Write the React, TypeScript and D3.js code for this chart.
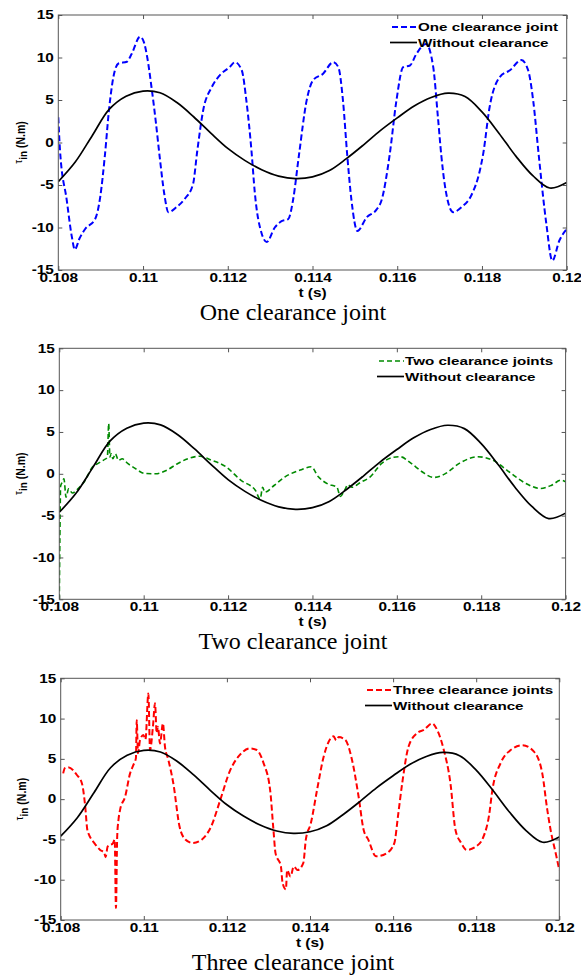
import React, { useEffect, useRef } from "react";
import * as d3 from "d3";

// axis ticks
const tickT = [0.108, 0.11, 0.112, 0.114, 0.116, 0.118, 0.12];
const tickTLabels = ["0.108", "0.11", "0.112", "0.114", "0.116", "0.118", "0.12"];
const tickTau = [-15, -10, -5, 0, 5, 10, 15];

// without clearance (same reference curve in every panel)
const tBase = [0.108, 0.1084, 0.1088, 0.1092, 0.1096, 0.11, 0.1104, 0.1108, 0.1112, 0.1116, 0.112, 0.1124, 0.1128, 0.1132, 0.1136, 0.114, 0.1144, 0.1148, 0.1152, 0.1156, 0.116, 0.1164, 0.1168, 0.1172, 0.1176, 0.118, 0.1184, 0.1188, 0.1192, 0.1196, 0.12];
const tauBase = [-4.6, -2.3, 0.8, 3.9, 5.45, 6.05, 5.85, 4.7, 3.0, 1.1, -0.7, -2.1, -3.2, -3.95, -4.25, -4.05, -3.3, -1.9, -0.3, 1.4, 2.9, 4.3, 5.3, 5.8, 5.4, 3.6, 1.1, -1.6, -3.9, -5.35, -4.7];

// one clearance joint
const tOne = [0.108, 0.10804, 0.1082, 0.10832, 0.10839, 0.1085, 0.10863, 0.10887, 0.10899, 0.1091, 0.1092, 0.1093, 0.10942, 0.10962, 0.10973, 0.10993, 0.11002, 0.1101, 0.1102, 0.1103, 0.1104, 0.1105, 0.1106, 0.11079, 0.11099, 0.11118, 0.11128, 0.11142, 0.11162, 0.11181, 0.11205, 0.11217, 0.11233, 0.11244, 0.11256, 0.11264, 0.1128, 0.11292, 0.11311, 0.11327, 0.11343, 0.11354, 0.11368, 0.11386, 0.11401, 0.11425, 0.11449, 0.11461, 0.11472, 0.11482, 0.11492, 0.11506, 0.11528, 0.11551, 0.11563, 0.11582, 0.11598, 0.11614, 0.1163, 0.11645, 0.11668, 0.11685, 0.11696, 0.11704, 0.11712, 0.11732, 0.11752, 0.11775, 0.11795, 0.11803, 0.11818, 0.11842, 0.11866, 0.11893, 0.11909, 0.11921, 0.11934, 0.11952, 0.11966, 0.11983, 0.12];
const tauOne = [2.97, -0.9, -6.8, -11.1, -12.6, -11.3, -10.2, -9.0, -6.4, -1.5, 4.0, 7.7, 9.3, 9.5, 10.4, 12.45, 11.8, 10.0, 6.5, 2.5, -2.0, -6.0, -8.2, -7.6, -6.6, -4.9, -1.0, 3.8, 6.5, 7.9, 8.9, 9.45, 8.5, 4.9, -1.0, -6.0, -10.7, -11.7, -10.0, -9.26, -9.0, -6.8, -1.5, 4.9, 7.3, 8.1, 9.45, 8.86, 4.9, -1.5, -6.8, -10.4, -8.8, -7.9, -6.8, -1.5, 4.9, 8.86, 9.06, 10.4, 11.6, 8.86, 3.0, -1.5, -4.9, -8.2, -7.6, -6.2, -3.3, -1.3, 4.15, 7.7, 8.5, 9.7, 8.5, 4.9, -1.5, -9.6, -13.9, -11.5, -10.2];

// two clearance joints
const tTwo = [0.108, 0.10802, 0.10803, 0.10807, 0.10811, 0.10816, 0.10822, 0.10831, 0.10844, 0.10861, 0.10879, 0.10892, 0.10905, 0.10914, 0.10917, 0.1092, 0.10923, 0.10927, 0.10933, 0.1094, 0.10949, 0.10962, 0.1098, 0.11002, 0.11028, 0.11055, 0.11081, 0.11107, 0.11134, 0.1116, 0.11195, 0.1123, 0.11265, 0.11276, 0.11282, 0.11287, 0.11309, 0.11335, 0.11371, 0.11397, 0.11414, 0.11436, 0.11458, 0.11466, 0.11476, 0.11484, 0.11493, 0.11515, 0.11537, 0.11564, 0.1159, 0.11608, 0.11634, 0.1166, 0.11687, 0.11713, 0.11748, 0.11792, 0.11827, 0.11871, 0.11906, 0.11941, 0.11967, 0.11989, 0.12];
const tauTwo = [-15, -5, -1.5, -1.0, -0.6, -2.8, -1.8, -2.3, -1.8, -0.8, 0.84, 1.24, 1.64, 2.0, 6.0, 2.0, 2.4, 1.8, 2.4, 1.6, 1.8, 1.24, 0.64, 0.04, 0.0, 0.44, 1.24, 1.84, 2.1, 1.64, 0.84, -0.76, -2.0, -3.0, -1.6, -2.2, -1.4, -0.36, 0.44, 0.84, -0.36, -1.2, -1.6, -2.7, -2.0, -1.3, -1.6, -1.0, -0.36, 1.24, 1.96, 2.04, 1.24, 0.24, -0.44, -0.04, 1.24, 2.04, 1.64, 0.04, -1.16, -1.76, -1.36, -0.76, -0.96];

// three clearance joints
const tThree = [0.10806, 0.1081, 0.10818, 0.10839, 0.10851, 0.10859, 0.10864, 0.10868, 0.10881, 0.10895, 0.10905, 0.10908, 0.10913, 0.10926, 0.1093, 0.10933, 0.10936, 0.10939, 0.10943, 0.10955, 0.10967, 0.10975, 0.10981, 0.10983, 0.10986, 0.10991, 0.10999, 0.11004, 0.11011, 0.11015, 0.11022, 0.11027, 0.11031, 0.11034, 0.11039, 0.11046, 0.11051, 0.11059, 0.11071, 0.11086, 0.111, 0.11118, 0.1114, 0.11162, 0.11184, 0.11208, 0.11228, 0.11256, 0.11272, 0.11288, 0.11304, 0.11312, 0.11317, 0.1133, 0.11334, 0.11342, 0.11345, 0.11353, 0.11361, 0.1137, 0.11384, 0.1139, 0.11402, 0.11417, 0.11433, 0.11457, 0.11463, 0.11469, 0.11485, 0.11501, 0.11517, 0.11529, 0.1154, 0.11559, 0.11585, 0.11603, 0.11612, 0.11622, 0.11637, 0.11658, 0.11674, 0.11694, 0.11706, 0.11722, 0.11738, 0.1175, 0.11764, 0.11777, 0.11799, 0.11818, 0.11831, 0.11839, 0.11859, 0.11883, 0.11911, 0.11939, 0.11959, 0.11971, 0.11979, 0.11993, 0.12];
const tauThree = [3.2, 3.84, 3.96, 3.0, 1.98, -0.9, -3.8, -4.4, -5.45, -6.3, -6.7, -7.2, -5.9, -5.45, -5.0, -13.5, -4.6, -2.6, -1.3, 0.3, 3.2, 4.25, 5.1, 9.8, 5.7, 7.35, 7.97, 7.4, 13.1, 6.1, 9.0, 11.9, 8.2, 9.0, 6.9, 9.4, 6.5, 4.9, 1.98, -3.4, -5.0, -5.45, -5.0, -3.4, -0.1, 3.6, 5.3, 6.3, 6.1, 4.5, 1.15, -3.8, -6.7, -8.35, -10.4, -11.2, -8.8, -9.6, -8.35, -8.8, -7.9, -5.0, -3.0, 1.15, 5.3, 7.8, 7.3, 7.7, 7.35, 4.9, 0.3, -3.8, -5.0, -7.1, -6.7, -5.45, -2.0, 2.0, 6.5, 8.2, 8.6, 9.4, 8.6, 6.1, 1.98, -3.8, -5.45, -6.3, -5.9, -4.6, -2.0, 1.15, 4.5, 6.1, 6.7, 5.9, 3.2, -1.3, -3.8, -7.1, -8.8];

const SANS = "Arial, 'Liberation Sans', sans-serif";
const SERIF = "'Times New Roman', 'Liberation Serif', serif";
const STRETCH = 1.38;
const TICK_STRETCH = 1.28;

const panels = [
  { x0: 58.3, x1: 566.7, y0: 15, y1: 270, t: tOne, v: tauOne, color: "#0000ff", dash: "6,3", width: 2, label: "One clearance joint", title: "One clearance joint", legX: 392, legY: 27, ylx: 25 },
  { x0: 59.3, x1: 565.6, y0: 348.3, y1: 599.3, t: tTwo, v: tauTwo, color: "#008a00", dash: "5,3", width: 1.6, label: "Two clearance joints", title: "Two clearance joint", legX: 379, legY: 361, ylx: 25 },
  { x0: 60.7, x1: 559.3, y0: 678.3, y1: 920, t: tThree, v: tauThree, color: "#ff0000", dash: "6,3", width: 2, label: "Three clearance joints", title: "Three clearance joint", legX: 367, legY: 690, ylx: 26 },
];

function drawPanel(svg, p, i) {
  const x = d3.scaleLinear().domain([0.108, 0.12]).range([p.x0, p.x1]);
  const y = d3.scaleLinear().domain([-15, 15]).range([p.y1, p.y0]);
  const g = svg.append("g");

  g.append("clipPath").attr("id", `clip${i}`)
    .append("rect")
    .attr("x", p.x0).attr("y", p.y0)
    .attr("width", p.x1 - p.x0).attr("height", p.y1 - p.y0);

  const line = d3.line()
    .x((d) => x(d[0]))
    .y((d) => y(d[1]))
    .curve(d3.curveMonotoneX);

  const smooth = d3.line()
    .x((d) => x(d[0]))
    .y((d) => y(d[1]))
    .curve(d3.curveCatmullRom.alpha(0.5));

  // clearance series
  g.append("path")
    .datum(d3.zip(p.t, p.v))
    .attr("clip-path", `url(#clip${i})`)
    .attr("fill", "none")
    .attr("stroke", p.color)
    .attr("stroke-width", p.width)
    .attr("stroke-dasharray", p.dash)
    .attr("d", line);

  // without clearance
  g.append("path")
    .datum(d3.zip(tBase, tauBase))
    .attr("clip-path", `url(#clip${i})`)
    .attr("fill", "none")
    .attr("stroke", "#000")
    .attr("stroke-width", 1.7)
    .attr("d", smooth);

  // axes, MATLAB style: inward ticks on all sides
  const styleAxis = (a) => {
    a.select(".domain").remove();
    a.selectAll("line").attr("stroke", "#555");
    a.attr("font-family", SANS).attr("font-size", 12).attr("font-weight", "bold");
    a.selectAll("text").attr("fill", "#000");
  };

  g.append("g")
    .attr("transform", `translate(0,${p.y1})`)
    .call(d3.axisBottom(x).tickValues(tickT).tickSizeInner(-4).tickSizeOuter(0).tickPadding(3)
      .tickFormat((d, k) => tickTLabels[k]))
    .call(styleAxis)
    .selectAll("text").attr("transform", `scale(${TICK_STRETCH},1)`);

  g.append("g")
    .attr("transform", `translate(0,${p.y0})`)
    .call(d3.axisTop(x).tickValues(tickT).tickSizeInner(-4).tickSizeOuter(0).tickFormat(() => ""))
    .call(styleAxis);

  g.append("g")
    .attr("transform", `translate(${p.x0},0)`)
    .call(d3.axisLeft(y).tickValues(tickTau).tickSizeInner(-4).tickSizeOuter(0).tickPadding(3.5)
      .tickFormat((d) => String(d)))
    .call(styleAxis)
    .selectAll("text").attr("transform", `scale(${TICK_STRETCH},1)`);

  g.append("g")
    .attr("transform", `translate(${p.x1},0)`)
    .call(d3.axisRight(y).tickValues(tickTau).tickSizeInner(-4).tickSizeOuter(0).tickFormat(() => ""))
    .call(styleAxis);

  g.append("rect")
    .attr("x", p.x0).attr("y", p.y0)
    .attr("width", p.x1 - p.x0).attr("height", p.y1 - p.y0)
    .attr("fill", "none")
    .attr("stroke", "#555")
    .attr("stroke-width", 1);

  // x label
  const xMid = (p.x0 + p.x1) / 2;
  g.append("text")
    .attr("transform", `translate(${xMid},${p.y1 + 26.5}) scale(${TICK_STRETCH},1)`)
    .attr("text-anchor", "middle")
    .attr("font-family", SANS).attr("font-size", 12).attr("font-weight", "bold")
    .text("t (s)");

  // y label: tau_in (N.m)
  const yl = g.append("text")
    .attr("transform", `translate(${p.ylx},${(p.y0 + p.y1) / 2}) scale(1.15,1) rotate(-90)`)
    .attr("text-anchor", "middle")
    .attr("font-family", SANS).attr("font-size", 10.5).attr("font-weight", "bold");
  yl.append("tspan").attr("font-weight", "normal").attr("font-size", 10).attr("dy", -3).text("τ");
  yl.append("tspan").attr("font-size", 10).attr("dy", 5).text("in");
  yl.append("tspan").attr("dy", -2).text(" (N.m)");

  // legend (no box)
  const rows = [
    { label: p.label, color: p.color, dash: p.dash, width: p.width },
    { label: "Without clearance", color: "#000", dash: null, width: 1.7 },
  ];
  rows.forEach((r, k) => {
    const ly = p.legY + k * 15.5;
    g.append("line")
      .attr("x1", p.legX - (k ? 2 : 0)).attr("x2", p.legX + 25)
      .attr("y1", ly).attr("y2", ly)
      .attr("stroke", r.color)
      .attr("stroke-width", r.width)
      .attr("stroke-dasharray", r.dash);
    g.append("text")
      .attr("transform", `translate(${p.legX + 26},${ly + 4}) scale(${STRETCH},1)`)
      .attr("font-family", SANS).attr("font-size", 11).attr("font-weight", "bold")
      .text(r.label);
  });

  // caption
  g.append("text")
    .attr("x", 293).attr("y", p.y1 + 50)
    .attr("text-anchor", "middle")
    .attr("font-family", SERIF).attr("font-size", 24)
    .text(p.title);
}

export default function App() {
  const svgRef = useRef(null);

  useEffect(() => {
    const svg = d3.select(svgRef.current);
    svg.selectAll("*").remove();
    panels.forEach((p, i) => drawPanel(svg, p, i));
  }, []);

  return (
    <svg
      ref={svgRef}
      width={581}
      height={979}
      style={{ position: "absolute", left: 0, top: 0, background: "#fff" }}
    />
  );
}
